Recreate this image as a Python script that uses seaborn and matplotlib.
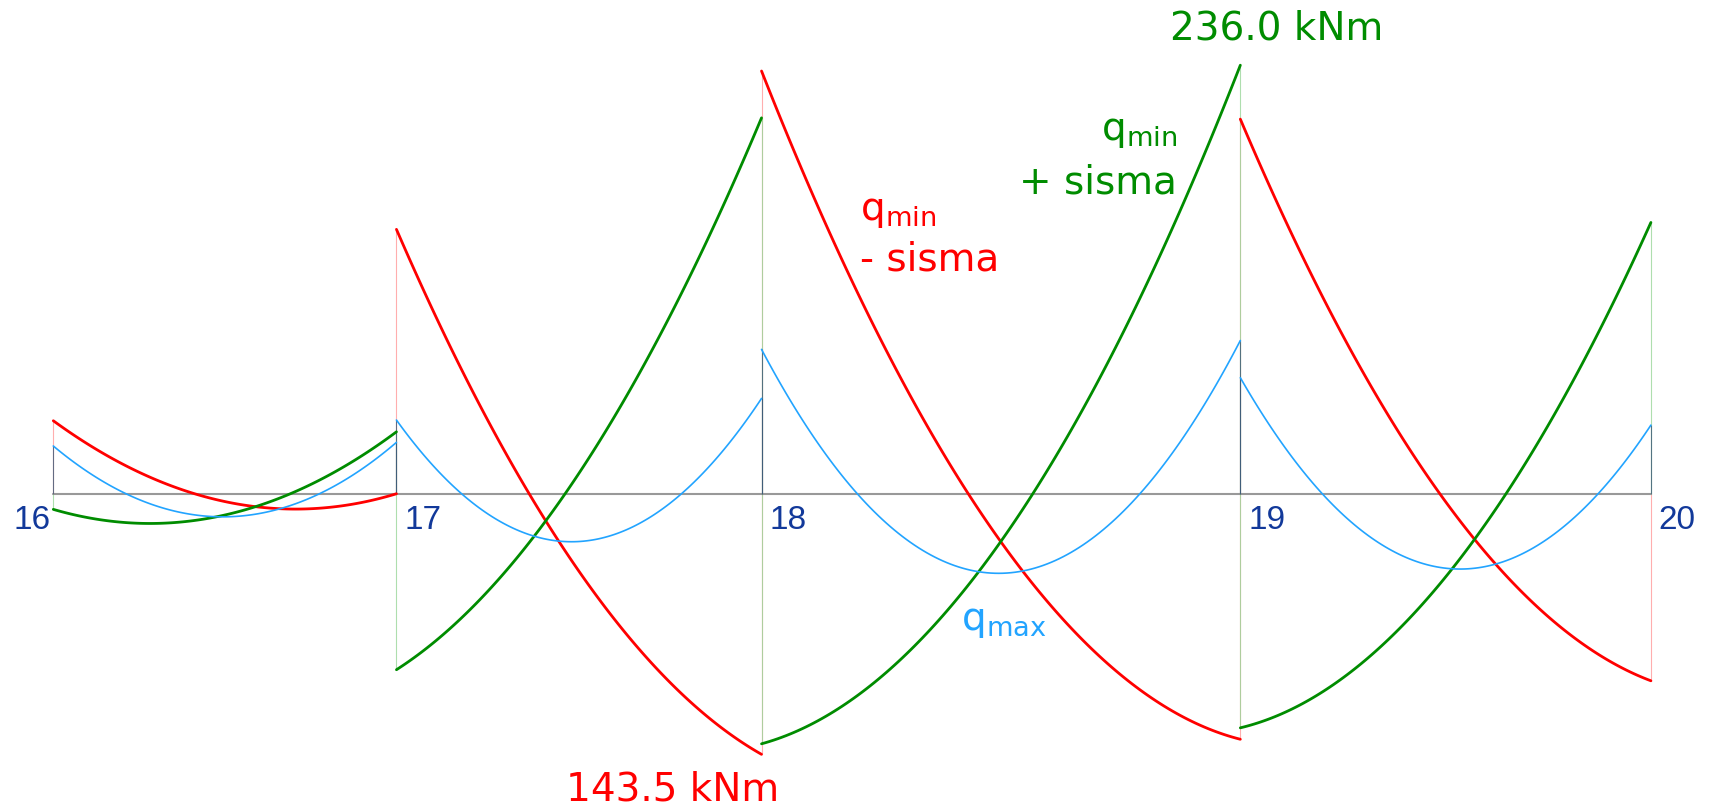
"""
Bending moment envelope of a continuous beam (nodes 16-20)
"""

import matplotlib.pyplot as plt
import numpy as np
import pandas as pd
import seaborn as sns

# nodes and span lengths [m]
nodes = ["16", "17", "18", "19", "20"]
span_len = [4.30, 4.575, 6.00, 5.145]

# moments [kNm] at left end, midspan and right end of each span (hogging < 0)
red_left = [-40.2, -145.6, -232.8, -206.3]
red_mid = [4.3, 42.7, 26.5, 4.4]
red_right = [0.0, 143.5, 135.2, 103.0]

green_left = [8.6, 96.9, 137.7, 128.9]
green_mid = [11.7, -11.3, 26.2, 45.8]
green_right = [-34.1, -207.0, -236.0, -149.4]

blue_left = [-26.3, -40.6, -79.5, -63.9]
blue_mid = [12.7, 26.3, 43.8, 41.0]
blue_right = [-28.3, -52.5, -84.4, -37.8]

cases = {
    "qmin - sisma": (red_left, red_mid, red_right),
    "qmin + sisma": (green_left, green_mid, green_right),
    "qmax": (blue_left, blue_mid, blue_right),
}
colors = {"qmin - sisma": "#ff0000", "qmin + sisma": "#008c00", "qmax": "#22a4ff"}
widths = {"qmin - sisma": 2.0, "qmin + sisma": 2.0, "qmax": 1.2}


def build_df(node_x):
    """Parabolic moment diagram for each span (uniform load)"""
    frames = []
    t = np.linspace(0, 1, 120)
    for case, (lefts, mids, rights) in cases.items():
        for i, L in enumerate(span_len):
            sag = mids[i] - (lefts[i] + rights[i]) / 2
            m = lefts[i] * (1 - t) + rights[i] * t + 4 * sag * t * (1 - t)
            frames.append(
                pd.DataFrame({"x": node_x[i] + t * L, "M": m, "case": case, "span": i})
            )
    return pd.concat(frames, ignore_index=True)


def main() -> None:
    sns.set_style("white")
    plt.rcParams["font.family"] = ["DejaVu Sans"]
    plt.rcParams["mathtext.fontset"] = "dejavusans"

    node_x = np.concatenate([[0.0], np.cumsum(span_len)])
    df = build_df(node_x)

    fig = plt.figure(figsize=(17.09, 8.11), dpi=100)
    ax = fig.add_axes([0, 0, 1, 1])

    # beam axis
    ax.plot([node_x[0], node_x[-1]], [0, 0], color="#999999", lw=1.5, zorder=1)

    # closing lines at span ends
    closing = {"qmin - sisma": "#ff9a9a", "qmin + sisma": "#9ad69a", "qmax": "#3c5a78"}
    for case, (lefts, mids, rights) in cases.items():
        for i in range(len(span_len)):
            ax.vlines(
                [node_x[i], node_x[i + 1]], 0, [lefts[i], rights[i]],
                color=closing[case], lw=0.8, alpha=0.8, zorder=2,
            )

    for case in cases:
        sns.lineplot(
            data=df[df["case"] == case], x="x", y="M", units="span",
            estimator=None, sort=False, color=colors[case], lw=widths[case],
            legend=False, ax=ax, zorder=3,
        )

    # node numbers
    node_col = "#12399a"
    for i, name in enumerate(nodes):
        dx = -0.26 if i == 0 else 0.33
        ax.text(node_x[i] + dx, 15.0, name, ha="center", va="center",
                fontsize=24, color=node_col, family=["Liberation Sans", "DejaVu Sans"])

    # labels
    ax.text(15.335, -256.4, "236.0 kNm", ha="center", va="center",
            fontsize=28, color=colors["qmin + sisma"])
    ax.text(7.76, 162.8, "143.5 kNm", ha="center", va="center",
            fontsize=28, color=colors["qmin - sisma"])

    ax.text(10.11, -150.6, r"q$_{\mathrm{min}}$", ha="left", va="baseline",
            fontsize=28, color=colors["qmin - sisma"])
    ax.text(10.11, -123.0, "- sisma", ha="left", va="baseline",
            fontsize=28, color=colors["qmin - sisma"])

    ax.text(14.08, -194.8, r"q$_{\mathrm{min}}$", ha="right", va="baseline",
            fontsize=28, color=colors["qmin + sisma"])
    ax.text(14.08, -165.6, "+ sisma", ha="right", va="baseline",
            fontsize=28, color=colors["qmin + sisma"])

    ax.text(11.37, 75.2, r"q$_{\mathrm{max}}$", ha="left", va="baseline",
            fontsize=28, color=colors["qmax"])

    ax.set_xlim(-0.668, 20.748)
    ax.set_ylim(174.7, -271.9)
    ax.axis("off")

    fig.savefig("out.png", dpi=100, facecolor="white")


if __name__ == "__main__":
    main()
